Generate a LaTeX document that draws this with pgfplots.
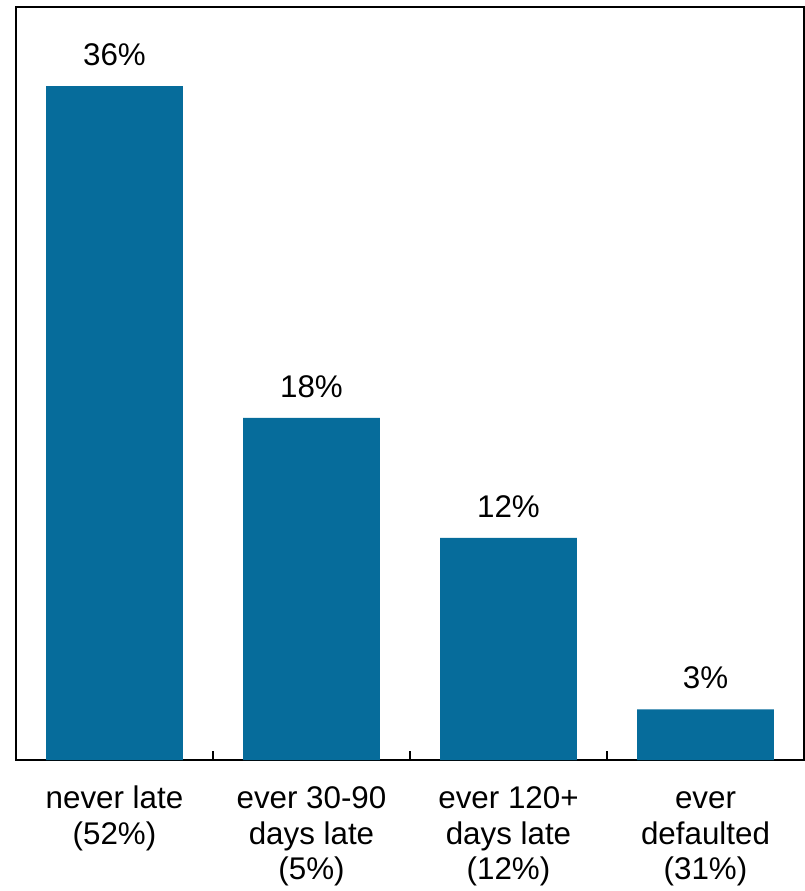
\documentclass[border=0pt]{standalone}
\usepackage{pgfplots}
\pgfplotsset{compat=1.18}
\usepackage{fontspec}
\setmainfont{Liberation Sans}
\definecolor{barblue}{RGB}{6,108,155}
\begin{document}
\begin{tikzpicture}
\begin{axis}[
  scale only axis,
  width=591pt, height=564.75pt,
  xmin=-0.5, xmax=3.5,
  ymin=0, ymax=40.22,
  axis line style={line width=1.4pt},
  ybar, bar width=102.5pt,
  ytick=\empty,
  xtick={0,1,2,3},
  xticklabels={{\strut never late\\(52\%)},{\strut ever 30-90\\days late\\(5\%)},{\strut ever 120+\\days late\\(12\%)},{\strut ever\\defaulted\\(31\%)}},
  major x tick style={draw=none},
  minor xtick={0.5,1.5,2.5},
  minor tick length=6.75pt,
  minor x tick style={line width=1.2pt, black},
  xtick pos=bottom,
  xtick align=inside,
  xticklabel style={align=center, font=\fontsize{23.5}{26.8}\selectfont, anchor=north, yshift=-14pt},
  nodes near coords,
  point meta=explicit symbolic,
  every node near coord/.append style={font=\fontsize{23.5}{26}\selectfont, anchor=south, yshift=15pt, inner sep=0pt},
]
\addplot[fill=barblue, draw=none] coordinates {(0,36) [36\%] (1,18.28) [18\%] (2,11.87) [12\%] (3,2.71) [3\%]};
\end{axis}
\path (current axis.south west) ++(-12pt,-98.25pt);
\path (current axis.north east) ++(0.75pt,5.25pt);
\end{tikzpicture}
\end{document}
